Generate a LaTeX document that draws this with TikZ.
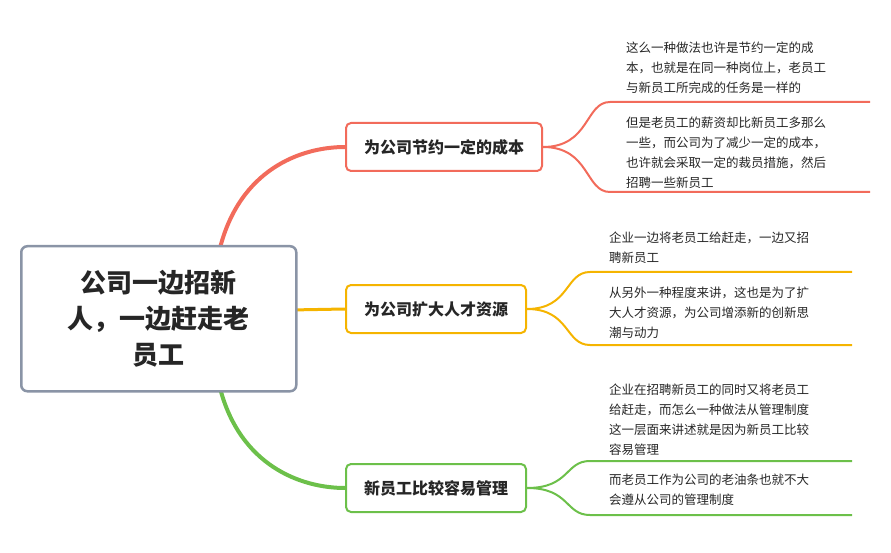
\documentclass[tikz,border=0pt]{standalone}
\usepackage{fontspec}
\setmainfont{Noto Sans CJK SC}
\begin{document}
\begin{tikzpicture}[x=1pt,y=-1pt,
  rootbox/.style={draw=rootgray, line width=2.5pt, rounded corners=6pt, fill=white, minimum width=275pt, minimum height=145pt, align=center, font=\fontsize{26}{36}\selectfont\bfseries, text=black!85},
  branch/.style={draw=#1, line width=2pt, rounded corners=5pt, fill=white, minimum height=48pt, inner xsep=18pt, font=\fontsize{16}{19}\selectfont\bfseries, text=black!85},
  leaf/.style={anchor=north west, align=left, inner sep=0pt, font=\fontsize{12.5}{20}\selectfont, text=black!85}]
\definecolor{cred}{HTML}{F26B5B}
\definecolor{corange}{HTML}{F5B400}
\definecolor{cgreen}{HTML}{6CC04A}
\definecolor{rootgray}{HTML}{8A94A6}
\useasboundingbox (0,0) rectangle (891,553);
\coordinate (r1) at (220,248);
\coordinate (r2) at (290,310);
\coordinate (r3) at (220,388);
\node[branch=cred, anchor=west] (b1) at (345,147) {为公司节约一定的成本};
\node[branch=corange, anchor=west] (b2) at (345,309) {为公司扩大人才资源};
\node[branch=cgreen, anchor=west] (b3) at (345,488) {新员工比较容易管理};
\draw[cred, line width=4pt] (r1) .. controls (240,170) and (300,147) .. (b1.west);
\draw[corange, line width=3pt] (r2) -- (b2.west);
\draw[cgreen, line width=4pt] (r3) .. controls (240,465) and (300,488) .. (b3.west);
\node[rootbox, anchor=north west] (root) at (20,245) {公司一边招新\\人，一边赶走老\\员工};
\coordinate (l1a) at (610,102); \coordinate (l1b) at (610,192);
\coordinate (l2a) at (590,272); \coordinate (l2b) at (590,345);
\coordinate (l3a) at (590,461); \coordinate (l3b) at (590,515);
\draw[cred, line width=2pt] (b1.east) .. controls (590,147) and (585,102) .. (l1a) -- (870,102);
\draw[cred, line width=2pt] (b1.east) .. controls (590,147) and (585,192) .. (l1b) -- (870,192);
\draw[corange, line width=2pt] (b2.east) .. controls (570,309) and (565,272) .. (l2a) -- (852,272);
\draw[corange, line width=2pt] (b2.east) .. controls (570,309) and (565,345) .. (l2b) -- (852,345);
\draw[cgreen, line width=2pt] (b3.east) .. controls (570,488) and (565,461) .. (l3a) -- (852,461);
\draw[cgreen, line width=2pt] (b3.east) .. controls (570,488) and (565,515) .. (l3b) -- (852,515);
\node[leaf] (t1) at (626,42) {这么一种做法也许是节约一定的成\\本，也就是在同一种岗位上，老员工\\与新员工所完成的任务是一样的};
\node[leaf] (t2) at (626,117) {但是老员工的薪资却比新员工多那么\\一些，而公司为了减少一定的成本，\\也许就会采取一定的裁员措施，然后\\招聘一些新员工};
\node[leaf] (t3) at (609,232) {企业一边将老员工给赶走，一边又招\\聘新员工};
\node[leaf] (t4) at (609,287) {从另外一种程度来讲，这也是为了扩\\大人才资源，为公司增添新的创新思\\潮与动力};
\node[leaf] (t5) at (609,384) {企业在招聘新员工的同时又将老员工\\给赶走，而怎么一种做法从管理制度\\这一层面来讲述就是因为新员工比较\\容易管理};
\node[leaf] (t6) at (609,474) {而老员工作为公司的老油条也就不大\\会遵从公司的管理制度};
\end{tikzpicture}
\end{document}
